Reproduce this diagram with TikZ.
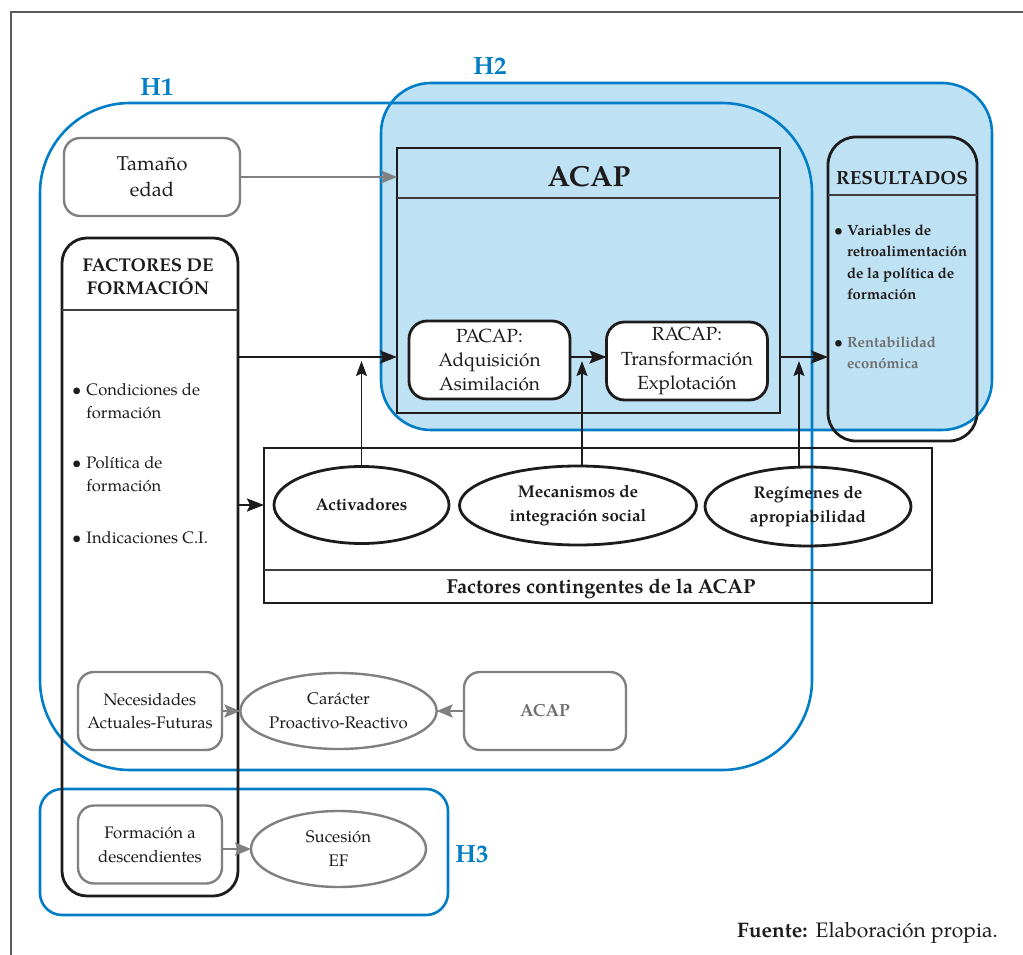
\documentclass[tikz,border=0pt]{standalone}
\usepackage{fontspec}
\setmainfont{TeX Gyre Pagella}
\usetikzlibrary{arrows.meta,shapes.geometric}
\definecolor{hblue}{RGB}{0,125,198}
\definecolor{hfill}{RGB}{190,226,243}
\definecolor{gline}{RGB}{128,128,131}
\definecolor{gtext}{RGB}{110,111,114}
\definecolor{dark}{RGB}{30,27,28}
\definecolor{fcol}{RGB}{90,90,92}
\newcommand{\myfs}[2]{\fontsize{#1}{#2}\selectfont}
\begin{document}
\begin{tikzpicture}[x=1pt,y=-1pt,
 base/.style={inner sep=0pt, outer sep=0pt},
 blkbox/.style={base, draw=dark, line width=2.8pt, rectangle},
 grybox/.style={base, draw=gline, line width=2.4pt, rounded corners=16pt, fill=white, text=dark, align=center},
 hyp/.style={base, draw=hblue, line width=2.6pt, rectangle},
 oval/.style={base, ellipse, draw=dark, line width=2.8pt, text=dark, align=center, font=\bfseries\myfs{17}{24}},
 goval/.style={base, ellipse, draw=gline, line width=2.4pt, fill=white, text=dark, align=center, font=\myfs{16.8}{24}},
 lbl/.style={inner sep=0pt, text=dark, align=center},
 hlabel/.style={inner sep=0pt, text=hblue, font=\bfseries\myfs{25}{30}},
 sepline/.style={draw=dark!85, line width=1.3pt},
 barrow/.style={draw=dark, line width=2.4pt, -{Stealth[length=17pt,width=13pt,inset=3pt]}},
 tarrow/.style={draw=dark, line width=1.5pt, -{Stealth[length=15pt,width=11pt,inset=2.5pt]}},
 garrow/.style={draw=gline, line width=2.4pt, -{Stealth[length=16pt,width=13pt,inset=3pt]}},
]
\useasboundingbox (0,0) rectangle (1023,955);
\draw[fcol, line width=1.5pt] (11,955) -- (11,12) -- (1023,12);

% hypothesis regions
\node[hyp, fill=hfill, rounded corners=50pt, minimum width=611pt, minimum height=347pt, anchor=north west] (h2) at (381,83) {};
\node[hyp, rounded corners=90pt, minimum width=772pt, minimum height=667pt, anchor=north west] (h1) at (40,103) {};
\node[hyp, rounded corners=22pt, minimum width=408pt, minimum height=126pt, anchor=north west] (h3) at (40,789) {};
\node[hlabel, anchor=base] (h1l) at (157,96) {H1};
\node[hlabel, anchor=base] (h2l) at (490,75) {H2};
\node[hlabel, anchor=base] (h3l) at (472,862) {H3};

% ACAP block
\node[blkbox, minimum width=383pt, minimum height=265pt, anchor=north west] (acap) at (397,148) {};
\draw[sepline] ([yshift=-50pt]acap.north west) -- ([yshift=-50pt]acap.north east);
\node[lbl, anchor=base, font=\bfseries\myfs{29}{33}] (acapt) at (589,186) {ACAP};
\node[blkbox, rounded corners=18pt, fill=white, minimum width=161pt, minimum height=78pt, text=dark, align=center, font=\myfs{19}{24}] (pacap) at (489.5,360) {PACAP:\\Adquisición\\Asimilación};
\node[blkbox, rounded corners=18pt, fill=white, minimum width=161pt, minimum height=78pt, text=dark, align=center, font=\myfs{19}{24.5}] (racap) at (687,361) {RACAP:\\Transformación\\Explotación};
\coordinate (flow) at (397,357);

% RESULTADOS
\node[blkbox, rounded corners=28pt, minimum width=149pt, minimum height=304pt, anchor=north west] (res) at (828,137) {};
\draw[sepline] ([yshift=-58pt]res.north west) -- ([yshift=-58pt]res.north east);
\node[lbl, anchor=base, font=\bfseries\myfs{19}{23}] (rest) at (902,184) {RESULTADOS};
\node[anchor=base west, inner sep=0pt, text=dark, font=\bfseries\myfs{14.8}{21.5}] (r1) at (834,235)
 {\begin{tabular}[t]{@{}l@{\hspace{4pt}}l@{}}\textbullet & Variables de\\ & retroalimentación\\ & de la política de\\ & formación\end{tabular}};
\node[anchor=base west, inner sep=0pt, text=gtext, font=\bfseries\myfs{14.8}{21.5}] (r2) at (834,347)
 {\begin{tabular}[t]{@{}l@{\hspace{4pt}}l@{}}{\color{dark}\textbullet} & Rentabilidad\\ & económica\end{tabular}};

% Tamaño
\node[grybox, minimum width=176pt, minimum height=78pt, font=\myfs{20}{26}] (tam) at (152,177) {Tamaño\\edad};

% FACTORES DE FORMACION
\node[blkbox, rounded corners=25pt, minimum width=176pt, minimum height=658pt, anchor=north west] (fact) at (62,238) {};
\draw[sepline] ([yshift=-72pt]fact.north west) -- ([yshift=-72pt]fact.north east);
\node[lbl, anchor=base, font=\bfseries\myfs{18.5}{23}] (factt) at (148,294) {FACTORES DE\\FORMACIÓN};
\node[anchor=base west, inner sep=0pt, text=dark, font=\myfs{16.6}{23.5}] (b1) at (72,395)
 {\begin{tabular}[t]{@{}l@{\hspace{5pt}}l@{}}\textbullet & Condiciones de\\ & formación\end{tabular}};
\node[anchor=base west, inner sep=0pt, text=dark, font=\myfs{16.6}{23.5}] (b2) at (72,468)
 {\begin{tabular}[t]{@{}l@{\hspace{5pt}}l@{}}\textbullet & Política de\\ & formación\end{tabular}};
\node[anchor=base west, inner sep=0pt, text=dark, font=\myfs{16.6}{23.5}] (b3) at (72,543)
 {\begin{tabular}[t]{@{}l@{\hspace{5pt}}l@{}}\textbullet & Indicaciones C.I.\end{tabular}};

% Factores contingentes
\node[blkbox, minimum width=668pt, minimum height=155pt, anchor=north west] (cont) at (264,448) {};
\draw[sepline] ([yshift=-122pt]cont.north west) -- ([yshift=-122pt]cont.north east);
\node[lbl, anchor=base, font=\bfseries\myfs{20.2}{24}] (contt) at (601,593) {Factores contingentes de la ACAP};
\node[oval, minimum width=175pt, minimum height=77pt] (act) at (361.5,505) {Activadores};
\node[oval, minimum width=237pt, minimum height=79pt] (mec) at (578,505.5) {Mecanismos de\\integración social};
\node[oval, minimum width=206pt, minimum height=79pt] (reg) at (808,506.5) {Regímenes de\\apropiabilidad};

% bottom part
\node[grybox, minimum width=144pt, minimum height=78pt, font=\myfs{16.7}{23.5}] (nec) at (150,711) {Necesidades\\Actuales-Futuras};
\node[goval, minimum width=175pt, minimum height=76pt] (car) at (338.5,711) {Carácter\\Proactivo-Reactivo};
\node[grybox, minimum width=162pt, minimum height=78pt, text=gtext, font=\bfseries\myfs{17.5}{20}] (acapg) at (545,711) {ACAP};
\node[grybox, minimum width=144pt, minimum height=78pt, font=\myfs{16.7}{24}] (form) at (150,844.5) {Formación a\\descendientes};
\node[goval, minimum width=175pt, minimum height=76pt] (suc) at (338.5,849) {Sucesión\\EF};

\node[anchor=base east, inner sep=0pt, text=dark, font=\myfs{21}{25}] (fuente) at (998,937) {\textbf{Fuente:}\hspace{8pt}Elaboración propia.};

% connectors
\draw[garrow] (tam.east) -- (acap.west |- tam.east);
\draw[barrow] (fact.east |- flow) -- (acap.west |- flow);
\draw[barrow] (pacap.east |- flow) -- (racap.west |- flow);
\draw[barrow] (acap.east |- flow) -- (res.west |- flow);
\draw[barrow] (fact.east |- act.west) -- (cont.west |- act.west);
\coordinate (at) at (act.north);
\coordinate (mt) at ([xshift=4pt]mec.north);
\coordinate (rt) at ([xshift=-9pt]reg.north);
\draw[tarrow, shorten >=4pt] (at) -- (at |- flow);
\draw[tarrow, shorten >=4pt] (mt) -- (mt |- flow);
\draw[tarrow, shorten >=4pt] (rt) -- (rt |- flow);
\draw[garrow] (nec.east) -- (car.west);
\draw[garrow] (acapg.west) -- (car.east);
\draw[garrow] (form.east |- suc.west) -- (suc.west);
\end{tikzpicture}
\end{document}
